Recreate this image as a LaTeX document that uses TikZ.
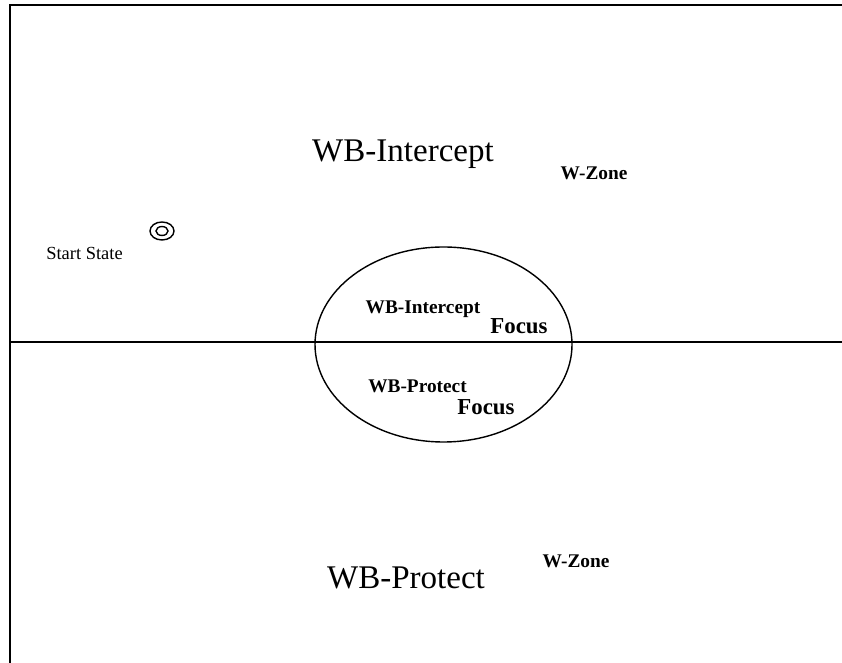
\documentclass[tikz,border=0pt]{standalone}
\usepackage{fontspec}
\setmainfont{Liberation Serif}
\usepackage{tikz}
\usetikzlibrary{shapes.geometric, positioning}

\begin{document}
\begin{tikzpicture}[
    zonelabel/.style={anchor=base, inner sep=0pt, font=\fontsize{18.8}{20}\selectfont},
    smalllabel/.style={anchor=base, inner sep=0pt, font=\fontsize{11}{12}\selectfont\bfseries},
    focuslabel/.style={anchor=base, inner sep=0pt, font=\fontsize{13}{14}\selectfont\bfseries},
    startlabel/.style={anchor=base, inner sep=0pt, font=\fontsize{10.5}{12}\selectfont},
    frame/.style={line width=1.1pt},
    focusarea/.style={draw, ellipse, line width=0.8pt, minimum width=5.14cm, minimum height=3.9cm, inner sep=0pt},
    startring/.style={draw, ellipse, line width=0.8pt, inner sep=0pt}
]
    \useasboundingbox (0,0) rectangle (16.84,13.26);

    % Frame and zone divider
    \coordinate (topleft) at (0.2,13.16);
    \coordinate (topright) at (16.84,13.16);
    \coordinate (bottomleft) at (0.2,0);
    \coordinate (divleft) at (0.2,6.42);
    \coordinate (divright) at (16.84,6.42);
    \draw[frame] (topright) -- (topleft) -- (bottomleft);
    \draw[line width=0.8pt] (divleft) -- (divright);

    % Focus area
    \node[focusarea] (focus) at (8.87,6.37) {};

    % Start state
    \node[startring, minimum width=0.48cm, minimum height=0.36cm] (startouter) at (3.24,8.64) {};
    \node[startring, minimum width=0.24cm, minimum height=0.18cm] (startinner) at (startouter.center) {};
    \node[startlabel] (startlbl) at (1.69,8.06) {Start State};

    % Upper zone
    \node[zonelabel] (intercept) at (8.06,10.02) {WB-Intercept};
    \node[smalllabel] (wzoneup) at (11.88,9.66) {W-Zone};
    \node[smalllabel] (interceptin) at (8.46,6.98) {WB-Intercept};
    \node[focuslabel] (focusup) at (10.38,6.58) {Focus};

    % Lower zone
    \node[smalllabel] (protectin) at (8.35,5.4) {WB-Protect};
    \node[focuslabel] (focusdown) at (9.72,4.96) {Focus};
    \node[zonelabel] (protect) at (8.12,1.48) {WB-Protect};
    \node[smalllabel] (wzonedown) at (11.52,1.9) {W-Zone};
\end{tikzpicture}
\end{document}
